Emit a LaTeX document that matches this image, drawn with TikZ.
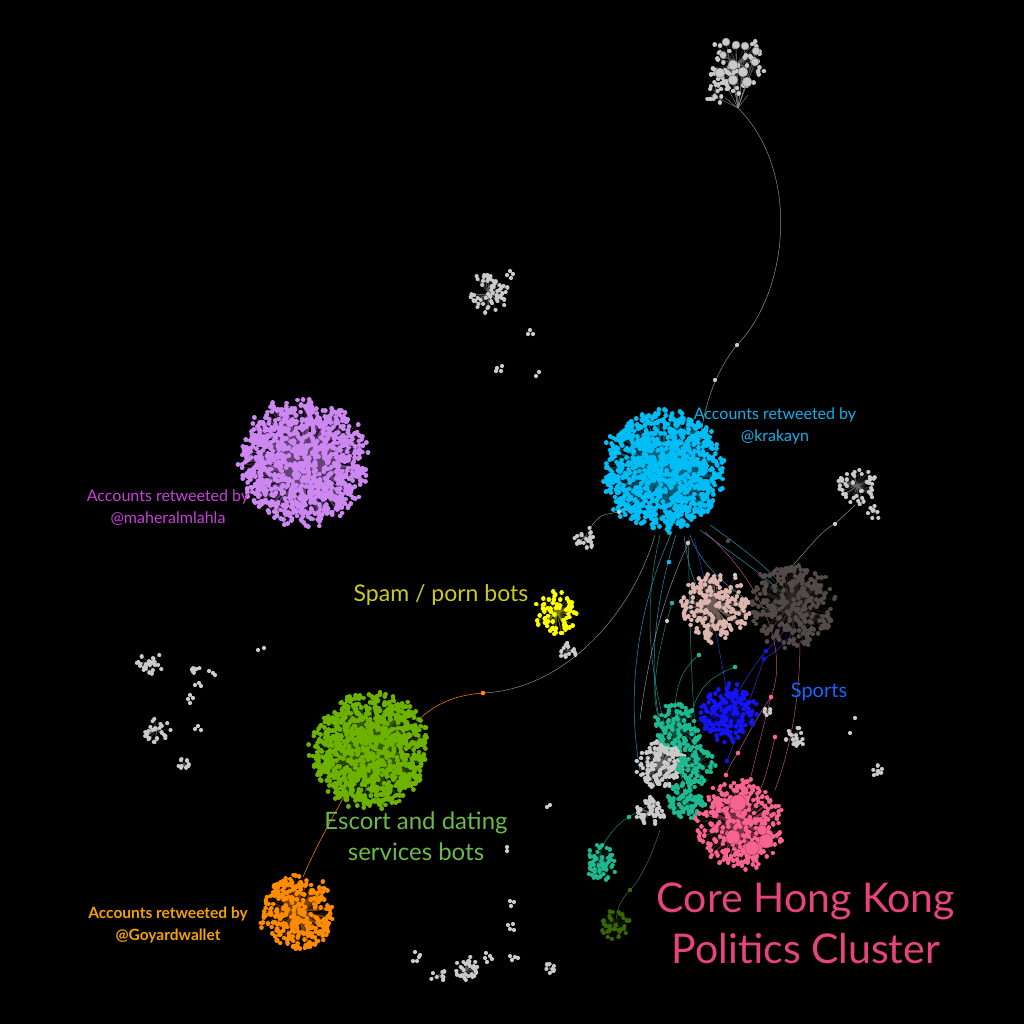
\documentclass[tikz,border=0pt]{standalone}
\usepackage{fontspec}
\setmainfont{Lato}
\usetikzlibrary{positioning}
\definecolor{purplec}{HTML}{CC88F0}
\definecolor{cyanc}{HTML}{00BEF5}
\definecolor{greenc}{HTML}{6EB200}
\definecolor{orangec}{HTML}{FF8C00}
\definecolor{yellowc}{HTML}{FFFF00}
\definecolor{rosyc}{HTML}{DBB5AE}
\definecolor{darkc}{HTML}{524A46}
\definecolor{bluec}{HTML}{1414F2}
\definecolor{tealc}{HTML}{1DBA92}
\definecolor{pinkc}{HTML}{F8638F}
\definecolor{dgreenc}{HTML}{386600}
\definecolor{grayc}{HTML}{CACACA}
\definecolor{cyanln}{HTML}{2C93B0}
\definecolor{tealln}{HTML}{1F8C78}
\definecolor{blueln}{HTML}{3434C8}
\definecolor{pinkln}{HTML}{B8557A}
\definecolor{grayln}{HTML}{8E8E8E}
\definecolor{greenln}{HTML}{4A6A3A}
\definecolor{cyanlbl}{HTML}{14AEEA}
\definecolor{purplelbl}{HTML}{C840D8}
\definecolor{yellowlbl}{HTML}{CACA22}
\definecolor{bluelbl}{HTML}{1566FF}
\definecolor{greenlbl}{HTML}{6DB84C}
\definecolor{orangelbl}{HTML}{F2A100}
\definecolor{pinklbl}{HTML}{E6447C}

% cluster: x, y, radius, dots, colour, dot diameter (pt), seed
\newcommand{\drawcluster}[7]{%
  \pgfmathsetseed{#7}%
  \draw[#5!50!black, line width=0.25pt]
    \foreach \k [evaluate=\k as \rdist using {#3*sqrt(rnd)*(0.88+0.17*rnd)},
                 evaluate=\k as \rang using {360*rnd}] in {1,...,#4}
    { (#1,#2) -- ++({\rdist*cos(\rang)},{\rdist*sin(\rang)}) };
  \pgfmathsetseed{#7}%
  \draw[#5, line width=#6pt, line cap=round]
    \foreach \k [evaluate=\k as \rdist using {#3*sqrt(rnd)*(0.88+0.17*rnd)},
                 evaluate=\k as \rang using {360*rnd}] in {1,...,#4}
    { ({#1+\rdist*cos(\rang)},{#2+\rdist*sin(\rang)}) -- ++(0.01,0) };
}

\begin{document}
\begin{tikzpicture}[x=1pt, y=-1pt,
  link/.style={line width=0.5pt},
  bigdot/.style={line width=0.5pt},
  lbl/.style={align=center, font=\fontsize{16}{22}\selectfont}]

% Background
\fill[black] (0,0) rectangle (1024,1024);

% Links (drawn under the clusters)
\draw[link, grayln] (738,108) .. controls (800,170) and (790,290) .. (737,345)
  .. controls (718,368) and (705,400) .. (700,440);
\draw[link, cyanln] (672,532) .. controls (640,600) and (625,690) .. (640,770);
\draw[link, cyanln] (676,535) .. controls (655,600) and (645,680) .. (665,740);
\draw[link, cyanln] (684,536) .. controls (690,580) and (700,600) .. (715,600);
\draw[link, cyanln] (690,535) .. controls (700,570) and (760,620) .. (790,610);
\draw[link, cyanln] (700,530) .. controls (740,560) and (790,590) .. (800,620);
\draw[link, cyanln] (710,525) .. controls (760,560) and (810,600) .. (805,640);
\draw[link, tealln] (688,538) .. controls (690,600) and (690,700) .. (700,780);
\draw[link, tealln] (660,535) .. controls (640,620) and (650,700) .. (690,800);
\draw[link, blueln] (694,538) .. controls (710,600) and (720,650) .. (728,700);
\draw[link, pinkln] (705,532) .. controls (760,580) and (790,650) .. (771,697)
  .. controls (760,740) and (750,780) .. (745,800);
\draw[link, grayln] (690,540) .. controls (670,580) and (650,640) .. (640,720);
\draw[link, tealln] (672,603) .. controls (655,660) and (650,700) .. (660,720);
\draw[link, tealln] (699,655) .. controls (680,670) and (675,690) .. (675,715);
\draw[link, tealln] (735,667) .. controls (700,680) and (690,700) .. (690,740);
\draw[link, grayln] (770,590) .. controls (800,560) and (820,530) .. (835,524)
  .. controls (845,515) .. (855,505);
\draw[link, blueln] (790,625) .. controls (775,640) and (770,648) .. (766,651)
  .. controls (750,670) and (740,690) .. (730,705);
\draw[link, blueln] (795,630) .. controls (780,650) and (770,655) .. (764,659)
  .. controls (750,700) and (735,740) .. (727,761);
\draw[link, pinkln] (800,640) .. controls (800,700) and (790,750) .. (775,790);
\draw[link, pinkln] (775,737) .. controls (770,760) and (765,780) .. (760,790);
\draw[link, pinkln] (771,697) .. controls (755,720) and (745,740) .. (738,753)
  .. controls (730,765) .. (726,775);
\draw[link, tealln] (650,805) .. controls (640,810) and (632,815) .. (629,817)
  .. controls (615,825) and (605,840) .. (601,850);
\draw[link, greenln] (660,830) .. controls (650,860) and (640,880) .. (630,890)
  .. controls (620,900) and (617,910) .. (616,920);
\draw[link, orangec] (418,720) .. controls (440,700) and (460,695) .. (483,693);
\draw[link, grayln] (483,693) .. controls (560,690) and (630,620) .. (655,535);
\draw[link, orangec] (345,795) .. controls (325,830) and (310,860) .. (303,877);
\draw[link, grayln] (619,512) .. controls (600,515) .. (590,528);

% Big clusters
\drawcluster{303}{462}{64}{1050}{purplec}{4.8}{11}
\drawcluster{663}{470}{61}{950}{cyanc}{4.8}{12}
\drawcluster{370}{750}{59}{950}{greenc}{4.8}{13}
\drawcluster{298}{912}{38}{300}{orangec}{4.6}{14}
\drawcluster{557}{613}{22}{70}{yellowc}{4.6}{15}
\drawcluster{715}{607}{35}{190}{rosyc}{4.6}{16}
\drawcluster{792}{605}{43}{300}{darkc}{4.6}{17}
\drawcluster{728}{712}{30}{160}{bluec}{4.6}{18}
\drawcluster{677}{728}{24}{120}{tealc}{4.6}{19}
\drawcluster{660}{765}{25}{130}{grayc}{4.4}{20}
\drawcluster{696}{765}{20}{80}{tealc}{4.6}{21}
\drawcluster{686}{800}{20}{90}{tealc}{4.6}{22}
\drawcluster{650}{812}{15}{45}{grayc}{4.4}{23}
\drawcluster{740}{825}{45}{340}{pinkc}{4.6}{24}
\drawcluster{601}{862}{18}{55}{tealc}{4.4}{25}
\drawcluster{616}{925}{15}{35}{dgreenc}{4.4}{26}

% Larger accounts in the pink cluster
\foreach \x/\y/\r in {738/803/8, 733/837/7, 752/848/7, 766/841/7, 762/830/5}
  \filldraw[bigdot, fill=pinkc, draw=pinkc!75!black] (\x,\y) circle (\r pt);

% Top grey cluster
\foreach \x/\y in {726/42, 736/45, 745/46, 756/51, 755/62, 733/65, 743/72, 720/73,
  733/80, 747/82, 712/95, 725/98, 748/95}
  \draw[grayln, line width=0.4pt] (738,108) -- (\x,\y);
\drawcluster{737}{64}{30}{70}{grayc}{4.6}{31}
\drawcluster{716}{92}{13}{18}{grayc}{4.2}{32}
\foreach \x/\y/\r in {726/42/4, 736/45/4, 745/46/4, 756/51/4, 755/62/4, 733/65/5,
  743/72/5, 720/73/5, 733/80/5, 747/82/5, 723/55/3.5}
  \filldraw[bigdot, fill=grayc, draw=grayc!60!black] (\x,\y) circle (\r pt);

% Small grey clusters
\drawcluster{489}{294}{21}{55}{grayc}{4.2}{41}
\drawcluster{585}{537}{12}{22}{grayc}{4.2}{42}
\drawcluster{857}{486}{20}{45}{grayc}{4.2}{43}
\drawcluster{875}{512}{8}{8}{grayc}{4.2}{44}
\drawcluster{568}{650}{9}{14}{grayc}{4.2}{45}
\drawcluster{150}{663}{13}{26}{grayc}{4.2}{46}
\drawcluster{157}{730}{14}{26}{grayc}{4.2}{47}
\drawcluster{184}{764}{7}{9}{grayc}{4.2}{48}
\drawcluster{196}{667}{6}{6}{grayc}{4.2}{49}
\drawcluster{796}{737}{11}{18}{grayc}{4.2}{50}
\drawcluster{876}{771}{7}{7}{grayc}{4.2}{51}
\drawcluster{466}{969}{13}{30}{grayc}{4.2}{52}
\drawcluster{438}{975}{8}{9}{grayc}{4.2}{53}
\drawcluster{550}{969}{7}{8}{grayc}{4.2}{54}
\drawcluster{767}{712}{5}{5}{grayc}{4.2}{55}
\fill[grayc] \foreach \x/\y in {213/673, 209/671, 215/675, 199/683, 195/685, 201/686,
  190/695, 188/699, 193/698, 190/703, 198/726, 195/729, 201/730,
  258/650, 264/648, 510/271, 507/275, 513/274, 511/278, 530/330, 528/334, 533/334,
  497/368, 502/366, 501/371, 496/371, 536/376, 539/372,
  547/807, 550/805, 507/847, 507/851, 510/901, 514/902, 511/906,
  508/925, 513/924, 510/929, 514/930, 415/952, 419/957, 413/961, 417/961, 420/955,
  486/953, 490/956, 485/958, 492/959, 487/962, 510/956, 515/957, 512/960, 518/958,
  855/718, 850/733, 737/345, 715/380, 619/512, 835/524, 667/621, 735/575}
  { (\x,\y) circle (2.1pt) };

% Dots along links
\foreach \x/\y/\c in {669/562/cyanc, 672/603/tealc, 699/655/tealc, 735/667/tealc,
  766/651/bluec, 764/659/bluec, 727/761/bluec, 771/697/pinkc, 775/737/pinkc,
  738/753/pinkc, 726/775/pinkc, 629/817/tealc, 630/890/dgreenc, 483/693/orangec,
  728/541/darkc, 688/543/rosyc}
  \fill[\c] (\x,\y) circle (2.3pt);

% Labels
\node[lbl, text=cyanlbl] (krakaynlbl) at (775,426) {Accounts retweeted by\\@krakayn};
\node[lbl, text=purplelbl] (maherlbl) at (168,508) {Accounts retweeted by\\@maheralmlahla};
\node[lbl, text=orangelbl, font=\fontsize{15.5}{22}\selectfont\bfseries] (goyardlbl) at (168,925)
  {Accounts retweeted by\\@Goyardwallet};
\node[text=yellowlbl, font=\fontsize{23}{26}\selectfont] (spamlbl) at (441,595) {Spam / porn bots};
\node[text=bluelbl, font=\fontsize{20}{22}\selectfont] (sportslbl) at (819,692) {Sports};
\node[align=center, text=greenlbl, font=\fontsize{24}{31}\selectfont] (escortlbl) at (416,836)
  {Escort and dating\\services bots};
\node[align=center, text=pinklbl, font=\fontsize{41}{51}\selectfont] (corelbl) at (806,923)
  {Core Hong Kong\\Politics Cluster};

\end{tikzpicture}
\end{document}
